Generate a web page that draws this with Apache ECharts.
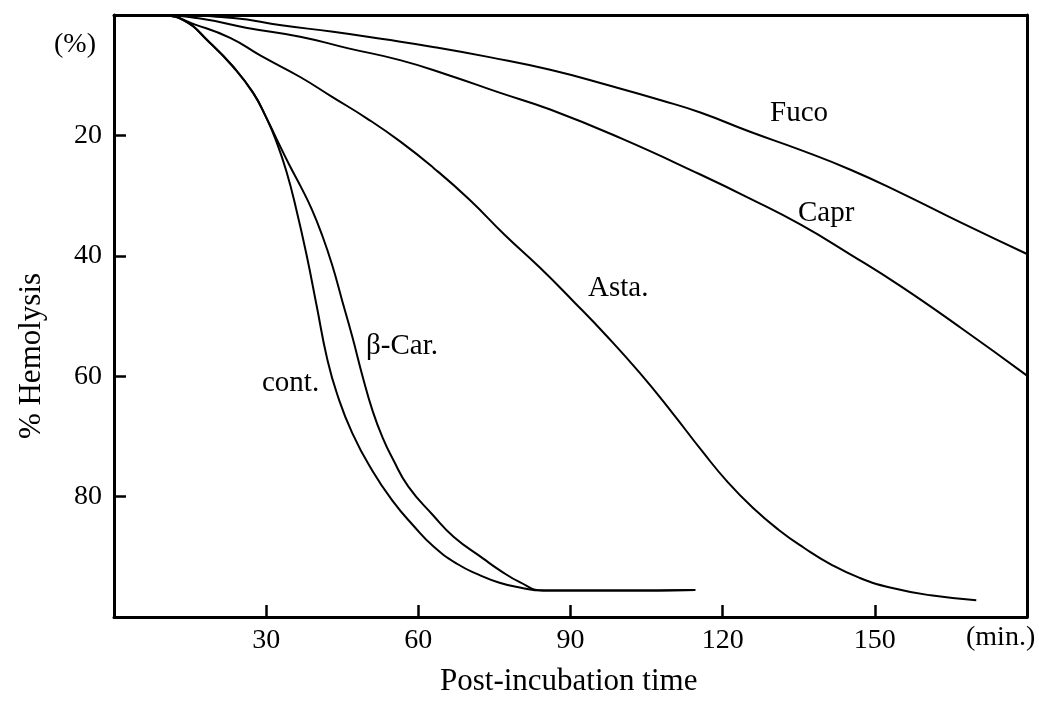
<!DOCTYPE html>
<html>
<head>
<meta charset="utf-8">
<script src="https://cdn.jsdelivr.net/npm/echarts@6/dist/echarts.min.js"></script>
<style>
  html, body { margin: 0; padding: 0; background: #fff; }
  #chart { width: 1039px; height: 707px; }
</style>
</head>
<body>
<div id="chart"></div>
<script>
// Curvas: [minutos, % hemolisis]
const contPts = [[0, 0], [10, 0.1], [13.6, 0.8], [18.9, 4.6], [23.5, 8.6], [27.4, 12.9], [30, 17],
    [32, 21], [34, 26], [36, 32.5], [38, 40], [40, 48.5], [42, 57], [44, 63], [47, 69.5], [51, 75.8],
    [55, 80.8], [59, 84.8], [63, 88.3], [67.7, 91.2], [72, 93], [76, 94.3], [80, 95.1], [84.6, 95.6],
    [100, 95.6], [114.6, 95.5]];
const betaPts = [[0, 0], [10, 0.1], [13.6, 0.8], [18.9, 4.6], [23.5, 8.6], [27.4, 12.9], [30, 17],
    [32, 20.5], [34.5, 24.8], [37, 28.8], [39, 32.3], [41, 36.5], [43, 41.5], [45, 47.5], [47, 53.5],
    [49, 60], [51, 65.8], [53, 70.3], [55, 73.8], [58, 78.3], [62.9, 83.1], [67, 86.7], [72.8, 90.3],
    [76, 92.2], [80, 94.2], [84.6, 95.6], [100, 95.6], [114.6, 95.5]];
const astaPts = [[0, 0], [10, 0.1], [16, 1.6], [22.9, 3.8], [29, 6.8], [36.7, 10.3], [43, 13.6],
    [49.9, 17.2], [56.4, 21], [63, 25.4], [70, 30.6], [77, 36.5], [84, 42], [90.5, 47.5], [97, 53.2],
    [103.7, 59.5], [110, 66], [116, 72.5], [121, 77.6], [126, 81.9], [131, 85.5], [136, 88.5],
    [141.4, 91.3], [147, 93.5], [153, 95.1], [161, 96.4], [170, 97.2]];
const caprPts = [[0, 0], [10, 0.1], [17, 0.6], [26, 2.1], [36.7, 3.6], [46, 5.5], [56.4, 7.5], [66, 10],
    [76, 12.9], [86, 15.7], [100, 20.5], [115.6, 26.5], [125.4, 30.5], [135.3, 34.8], [145.2, 39.8],
    [155, 45], [167, 52], [180, 59.9]];
const fucoPts = [[0, 0], [10, 0], [23.5, 0.5], [33, 1.7], [43.2, 2.8], [53, 4], [62.9, 5.3], [74, 7],
    [86, 9.1], [98, 11.8], [108, 14.2], [115.6, 16.2], [125.4, 19.4], [135.3, 22.4], [145.2, 25.7],
    [155, 29.5], [167, 34.5], [180, 39.7]];

const xTicks = [30, 60, 90, 120, 150];
const yTicks = [20, 40, 60, 80];

const serif = '"Liberation Serif", "DejaVu Serif", serif';

function curve(name, pts) {
    return {
        name: name,
        type: 'line',
        data: pts,
        smooth: 0.5,
        showSymbol: false,
        lineStyle: { color: '#000', width: 2 }
    };
}

function label(text, left, top, size) {
    return { type: 'text', left: left, top: top, style: { text: text, font: size + 'px ' + serif, fill: '#000' } };
}

// ejes de borde (arriba y derecha), solo la linea
function frameAxis(pos, min, max, inverse) {
    return {
        type: 'value', position: pos, min: min, max: max, inverse: inverse,
        axisLine: { show: true, onZero: false, lineStyle: { color: '#000', width: 3 } },
        axisTick: { show: false }, axisLabel: { show: false }, splitLine: { show: false }
    };
}

const chart = echarts.init(document.getElementById('chart'));
const option = {
    backgroundColor: '#fff',
    animation: false,
    grid: { left: 114, top: 15, width: 913, height: 602, show: false },
    xAxis: [{
        type: 'value', min: 0, max: 180, interval: 30, position: 'bottom', z: 5,
        axisLine: { show: true, onZero: false, lineStyle: { color: '#000', width: 3 } },
        axisTick: { show: true, inside: true, length: 12, lineStyle: { color: '#000', width: 2.5 } },
        splitLine: { show: false },
        axisLabel: {
            color: '#000', fontFamily: serif, fontSize: 28, margin: 10,
            formatter: v => (xTicks.indexOf(v) >= 0 ? String(v) : '')
        }
    }, frameAxis('top', 0, 180, false)],
    yAxis: [{
        type: 'value', min: 0, max: 100, interval: 20, inverse: true, position: 'left', z: 5,
        axisLine: { show: true, onZero: false, lineStyle: { color: '#000', width: 3 } },
        axisTick: { show: true, inside: true, length: 12, lineStyle: { color: '#000', width: 2.5 } },
        splitLine: { show: false },
        axisLabel: {
            color: '#000', fontFamily: serif, fontSize: 28, margin: 12,
            formatter: v => (yTicks.indexOf(v) >= 0 ? String(v) : '')
        }
    }, frameAxis('right', 0, 100, true)],
    graphic: [
        label('(%)', 54, 31, 28),
        label('(min.)', 966, 624, 28),
        label('Post-incubation time', 440, 666, 31),
        { type: 'text', x: 32, y: 356, rotation: Math.PI / 2,
          style: { text: '% Hemolysis', font: '31px ' + serif, fill: '#000', align: 'center', verticalAlign: 'middle' } },
        label('Fuco', 770, 99, 29),
        label('Capr', 798, 199, 29),
        label('Asta.', 588, 274, 29),
        label('β-Car.', 366, 332, 29),
        label('cont.', 262, 369, 29)
    ],
    series: [
        curve('cont.', contPts),
        curve('β-Car.', betaPts),
        curve('Asta.', astaPts),
        curve('Capr', caprPts),
        curve('Fuco', fucoPts)
    ]
};
chart.setOption(option);
</script>
</body>
</html>
